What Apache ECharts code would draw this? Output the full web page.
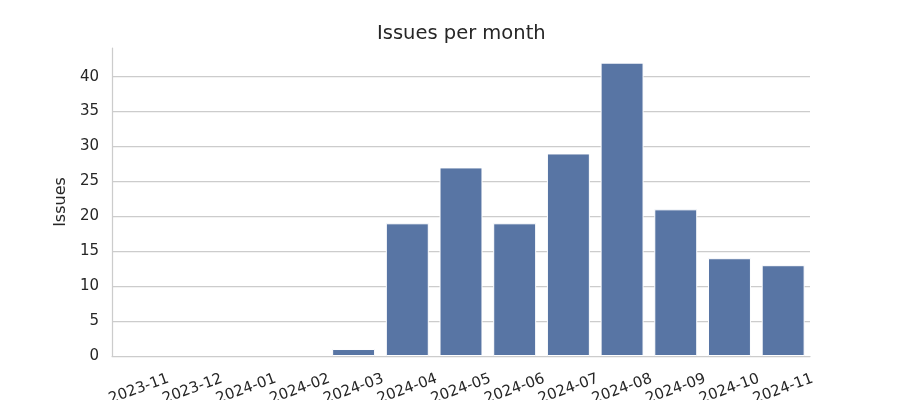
<!DOCTYPE html>
<html>
<head>
<meta charset="utf-8">
<script src="https://cdn.jsdelivr.net/npm/echarts@6/dist/echarts.min.js"></script>
<style>html,body{margin:0;padding:0;background:#fff}#c{width:900px;height:400px}</style>
</head>
<body>
<div id="c"></div>
<script>
const categories = ['2023-11','2023-12','2024-01','2024-02','2024-03','2024-04','2024-05','2024-06','2024-07','2024-08','2024-09','2024-10','2024-11'];
const issues = [0, 0, 0, 0, 1, 19, 27, 19, 29, 42, 21, 14, 13];
const yTicks = [0, 5, 10, 15, 20, 25, 30, 35, 40];

const chart = echarts.init(document.getElementById('c'), null, {renderer: 'canvas'});
const font = 'DejaVu Sans';
chart.setOption({
  animation: false,
  backgroundColor: '#ffffff',
  title: {
    text: 'Issues per month',
    left: 377,
    top: 24,
    padding: 0,
    textStyle: {fontFamily: font, fontSize: 19.5, fontWeight: 'normal', color: '#262626'}
  },
  grid: {left: 112, right: 90, top: 48, bottom: 44, containLabel: false, outerBoundsMode: 'none'},
  xAxis: {
    type: 'category',
    data: categories,
    axisLine: {show: true, lineStyle: {color: '#cccccc', width: 1.25}},
    axisTick: {show: false},
    axisLabel: {
      interval: 0, rotate: 20, align: 'center', verticalAlign: 'middle', margin: 33,
      fontFamily: font, fontSize: 15, color: '#262626'
    }
  },
  yAxis: {
    type: 'value',
    min: 0, max: 44.1, interval: 5,
    name: 'Issues',
    nameLocation: 'middle',
    nameGap: 33,
    nameTextStyle: {fontFamily: font, fontSize: 16, color: '#262626'},
    axisLine: {show: true, lineStyle: {color: '#cccccc', width: 1.25}},
    axisTick: {show: false},
    axisLabel: {
      fontFamily: font, fontSize: 15, color: '#262626', margin: 13, padding: [4, 0, 0, 0],
      formatter: v => (yTicks.indexOf(v) >= 0 ? String(v) : '')
    },
    splitLine: {show: false}
  },
  series: [
    {
      type: 'bar',
      data: [],
      z: 1,
      silent: true,
      markLine: {
        silent: true,
        z: 1,
        symbol: ['none', 'none'],
        label: {show: false},
        lineStyle: {color: '#cccccc', width: 1.25, type: 'solid'},
        data: yTicks.filter(t => t > 0).map(t => ({yAxis: t}))
      }
    },
    {
      type: 'bar',
      z: 3,
      data: issues.map(v => v === 0 ? {value: v, itemStyle: {borderWidth: 0}} : v),
      barGap: '-100%',
      barCategoryGap: '20%',
      itemStyle: {color: '#5875a4', borderColor: '#ffffff', borderWidth: 1}
    }
  ]
});
</script>
</body>
</html>
